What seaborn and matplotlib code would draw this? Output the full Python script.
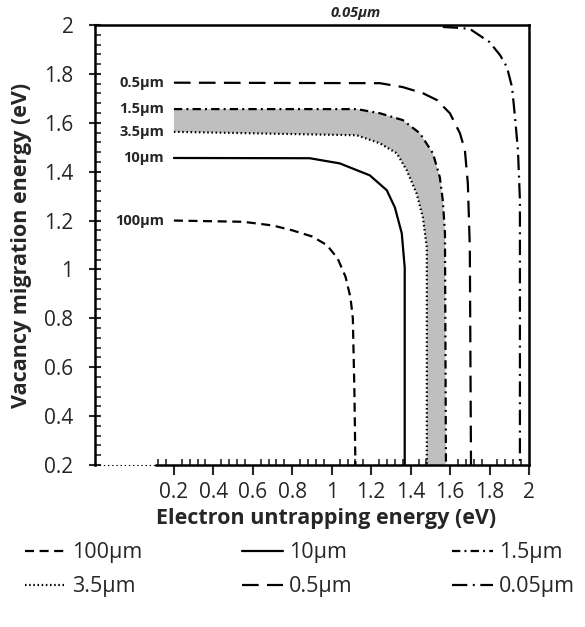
import numpy as np
import matplotlib
matplotlib.use("Agg")
import matplotlib.pyplot as plt
import seaborn as sns
from matplotlib.ticker import FixedLocator, FixedFormatter

# Iso-lines of grain size in the (electron untrapping, vacancy migration) energy plane
x_100 = [0.2, 0.55, 0.7, 0.8, 0.9, 0.975, 1.03, 1.07, 1.095, 1.107, 1.115, 1.12]
y_100 = [1.2, 1.195, 1.18, 1.16, 1.135, 1.10, 1.045, 0.97, 0.885, 0.80, 0.5, 0.2]

x_10 = [0.2, 0.888, 1.04, 1.193, 1.279, 1.32, 1.355, 1.37, 1.37]
y_10 = [1.456, 1.455, 1.434, 1.385, 1.324, 1.254, 1.148, 1.008, 0.2]

x_3p5 = [0.2, 1.127, 1.244, 1.33, 1.38, 1.43, 1.462, 1.482, 1.482]
y_3p5 = [1.563, 1.549, 1.516, 1.475, 1.406, 1.311, 1.213, 1.09, 0.2]

x_1p5 = [0.2, 1.127, 1.244, 1.36, 1.447, 1.513, 1.548, 1.563, 1.574, 1.579]
y_1p5 = [1.656, 1.656, 1.639, 1.611, 1.557, 1.475, 1.377, 1.283, 1.148, 0.2]

x_0p5 = [0.2, 1.244, 1.36, 1.462, 1.533, 1.599, 1.65, 1.675, 1.69, 1.70, 1.706]
y_0p5 = [1.764, 1.762, 1.746, 1.721, 1.693, 1.639, 1.557, 1.488, 1.352, 1.09, 0.2]

x_0p05 = [1.563, 1.65, 1.70, 1.80, 1.853, 1.888, 1.914, 1.929, 1.944, 1.954, 1.954]
y_0p05 = [1.992, 1.988, 1.984, 1.93, 1.877, 1.828, 1.746, 1.623, 1.488, 1.283, 0.2]

labels = ["100µm", "10µm", "3.5µm", "1.5µm", "0.5µm", "0.05µm"]

x_ticks = [0.2, 0.4, 0.6, 0.8, 1.0, 1.2, 1.4, 1.6, 1.8, 2.0]
x_tick_labels = ["0.2", "0.4", "0.6", "0.8", "1", "1.2", "1.4", "1.6", "1.8", "2"]
y_ticks = [0.2, 0.4, 0.6, 0.8, 1.0, 1.2, 1.4, 1.6, 1.8, 2.0]
y_tick_labels = ["0.2", "0.4", "0.6", "0.8", "1", "1.2", "1.4", "1.6", "1.8", "2"]

sns.set_style("white")
plt.rcParams["font.family"] = ["Open Sans", "DejaVu Sans"]
plt.rcParams["lines.scale_dashes"] = False

fig = plt.figure(figsize=(5.85, 6.27), dpi=100)
ax = fig.add_axes([95 / 585, 1 - 465 / 627, 434 / 585, 440 / 627])

# shaded band between the 1.5 µm and 3.5 µm curves
band_x = np.concatenate([x_1p5, x_3p5[::-1]])
band_y = np.concatenate([y_1p5, y_3p5[::-1]])
ax.fill(band_x, band_y, color="#bfbfbf", lw=0, zorder=1)

styles = {
    "100µm": (0, (6.5, 4.0)),
    "10µm": "-",
    "3.5µm": (0, (1.1, 1.9)),
    "1.5µm": (0, (6.0, 3.0, 1.4, 3.0)),
    "0.5µm": (0, (12.0, 6.0)),
    "0.05µm": (0, (11.0, 4.0, 1.4, 4.0)),
}
curves = {
    "100µm": (x_100, y_100),
    "10µm": (x_10, y_10),
    "3.5µm": (x_3p5, y_3p5),
    "1.5µm": (x_1p5, y_1p5),
    "0.5µm": (x_0p5, y_0p5),
    "0.05µm": (x_0p05, y_0p05),
}
handles = {}
for name in labels:
    xs, ys = curves[name]
    sns.lineplot(x=xs, y=ys, sort=False, estimator=None, color="black",
                 linewidth=1.6, linestyle=styles[name], ax=ax, zorder=3,
                 legend=False)
    line = ax.lines[-1]
    line.set_label(name)
    handles[name] = line

# inline labels at the left end of each curve
for name in ["0.5µm", "1.5µm", "3.5µm", "10µm", "100µm"]:
    xs, ys = curves[name]
    ax.text(xs[0] - 0.05, ys[0], name, ha="right", va="center",
            fontsize=10.5, fontweight="bold")
ax.text(1.12, 2.02, "0.05µm", ha="center", va="bottom", fontsize=10.5,
        fontweight="bold", style="italic", clip_on=False)

ax.set_xlim(-0.2, 2.0)
ax.set_ylim(0.2, 2.0)

ax.xaxis.set_major_locator(FixedLocator(x_ticks))
ax.xaxis.set_major_formatter(FixedFormatter(x_tick_labels))
ax.xaxis.set_minor_locator(FixedLocator(np.round(np.arange(0.12, 2.0001, 0.04), 2)))
ax.yaxis.set_major_locator(FixedLocator(y_ticks))
ax.yaxis.set_major_formatter(FixedFormatter(y_tick_labels))
ax.yaxis.set_minor_locator(FixedLocator(np.round(np.arange(0.2, 2.0001, 0.04), 2)))

for side in ["left", "right", "top", "bottom"]:
    ax.spines[side].set_visible(True)
    ax.spines[side].set_color("black")
    ax.spines[side].set_linewidth(1.8)
ax.spines["bottom"].set_bounds(0.11, 2.0)
ax.axhline(0.2, xmin=0, xmax=0.31 / 2.2, color="black", lw=0.8,
           linestyle=(0, (1, 2)), clip_on=False, zorder=4)

ax.tick_params(axis="x", which="major", direction="out", length=7, width=1.5,
               labelsize=15, pad=5, bottom=True)
ax.tick_params(axis="x", which="minor", direction="in", length=4, width=1.2,
               bottom=True)
ax.tick_params(axis="y", which="major", direction="inout", length=9, width=1.5,
               labelsize=15, pad=11, left=True)
ax.tick_params(axis="y", which="minor", direction="in", length=4, width=1.2,
               left=True)

ax.set_xlabel("Electron untrapping energy (eV)", fontsize=15.5, fontweight="bold")
ax.xaxis.set_label_coords((326 - 95) / 434, -0.097)
ax.set_ylabel("Vacancy migration energy (eV)", fontsize=15.5, fontweight="bold")
ax.yaxis.set_label_coords(-0.145, 0.5)

order = ["100µm", "3.5µm", "10µm", "0.5µm", "1.5µm", "0.05µm"]
fig.legend([handles[n] for n in order], order, ncol=3, loc="upper left",
           bbox_to_anchor=(0.028, 0.149), frameon=False, fontsize=15.5,
           handlelength=1.9, handletextpad=0.3, columnspacing=4.6,
           labelspacing=0.6, borderaxespad=0)

fig.savefig("out.png", dpi=100)
